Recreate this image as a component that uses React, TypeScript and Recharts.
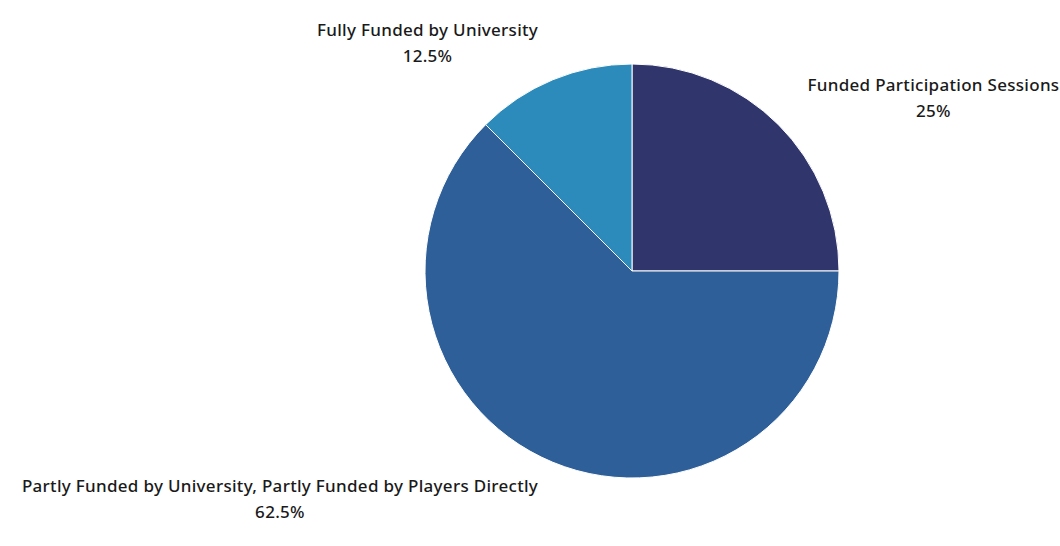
import { PieChart, Pie, Cell } from 'recharts';

const categories = [
  'Funded Participation Sessions',
  'Partly Funded by University, Partly Funded by Players Directly',
  'Fully Funded by University',
];
const counts = [2, 5, 1];
const colors = ['#30366b', '#2e5f99', '#2c8bba'];

const data = categories.map((name, i) => ({ name, value: counts[i] }));

const RADIAN = Math.PI / 180;

function fmtPct(p: number) {
  const v = Math.round(p * 1000) / 10;
  return `${v}%`;
}

function renderLabel(props: any) {
  const { cx, cy, midAngle, outerRadius, name, percent } = props;
  const r = outerRadius + 20;
  const px = cx + r * Math.cos(-midAngle * RADIAN);
  const py = cy + r * Math.sin(-midAngle * RADIAN);
  const right = px > cx;
  const upper = py < cy;
  const boxW = 600;
  const boxH = 52;
  const x = right ? px + 15 : px - 7 - boxW;
  const y = upper ? py - boxH + (right ? 14 : 8) : py - 8;
  return (
    <foreignObject x={x} y={y} width={boxW} height={boxH} style={{ overflow: 'visible' }}>
      <div
        style={{
          display: 'flex',
          justifyContent: right ? 'flex-start' : 'flex-end',
          width: boxW,
        }}
      >
        <div
          style={{
            textAlign: 'center',
            fontFamily: '"Noto Sans", sans-serif',
            fontSize: 17,
            fontWeight: 500,
            letterSpacing: '0.3px',
            lineHeight: '26px',
            color: '#1a1a1a',
            whiteSpace: 'nowrap',
          }}
        >
          <div>{name}</div>
          <div>{fmtPct(percent)}</div>
        </div>
      </div>
    </foreignObject>
  );
}

export default function App() {
  return (
    <div style={{ position: 'absolute', left: 0, top: 0, width: 1060, height: 546, background: '#fff', overflow: 'hidden' }}>
      <PieChart width={1060} height={546} margin={{ top: 0, right: 0, bottom: 0, left: 0 }}>
        <Pie
          data={data}
          dataKey="value"
          nameKey="name"
          cx={632}
          cy={271}
          outerRadius={207}
          startAngle={90}
          endAngle={-270}
          stroke="#ffffff"
          strokeWidth={1}
          label={renderLabel}
          labelLine={false}
          isAnimationActive={false}
        >
          {data.map((d, i) => (
            <Cell key={d.name} fill={colors[i]} />
          ))}
        </Pie>
      </PieChart>
    </div>
  );
}
